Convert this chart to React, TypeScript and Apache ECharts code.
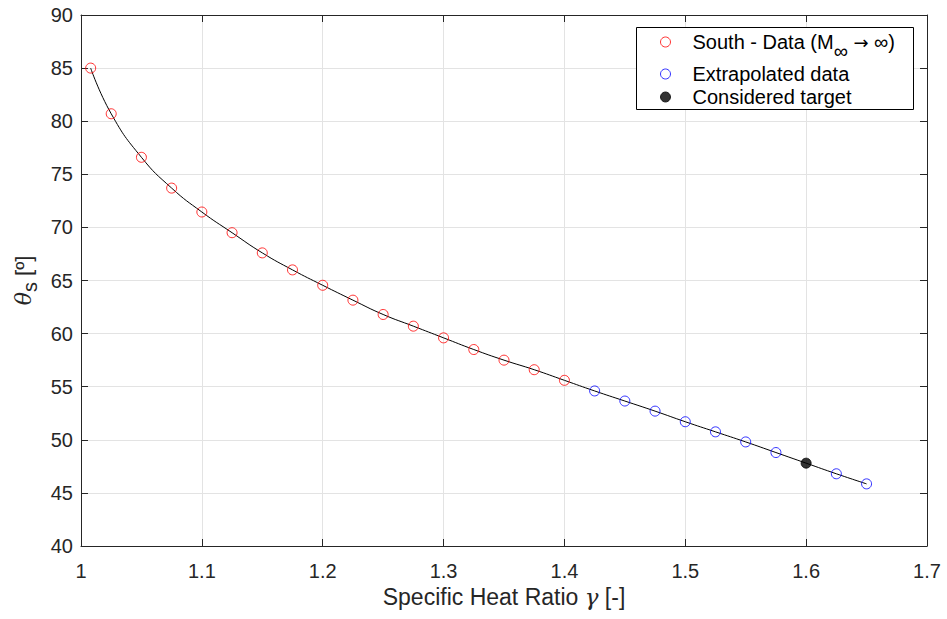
import React, { useEffect, useRef } from "react";
import * as echarts from "echarts";

const southGamma = [1.008, 1.025, 1.05, 1.075, 1.1, 1.125, 1.15, 1.175, 1.2, 1.225, 1.25, 1.275, 1.3, 1.325, 1.35, 1.375, 1.4];
const southTheta = [85.0, 80.7, 76.6, 73.7, 71.45, 69.5, 67.6, 66.0, 64.55, 63.15, 61.8, 60.7, 59.6, 58.5, 57.5, 56.6, 55.6];
const extraGamma = [1.425, 1.45, 1.475, 1.5, 1.525, 1.55, 1.575, 1.625, 1.65];
const extraTheta = [54.6, 53.65, 52.7, 51.7, 50.75, 49.8, 48.8, 46.8, 45.85];
const targetGamma = [1.6];
const targetTheta = [47.8];

const FONT = "'Liberation Sans', Arial, Helvetica, sans-serif";
const AX = "#262626";

export default function App() {
  const ref = useRef<HTMLDivElement>(null);
  useEffect(() => {
    if (!ref.current) return;
    const chart = echarts.init(ref.current, undefined, { renderer: "svg" });
    const south = southGamma.map((g, i) => [g, southTheta[i]]);
    const extra = extraGamma.map((g, i) => [g, extraTheta[i]]);
    const target = targetGamma.map((g, i) => [g, targetTheta[i]]);
    const all = [...south, ...extra, ...target].sort((a, b) => a[0] - b[0]);

    const xBase = {
      type: "value" as const,
      min: 1,
      max: 1.7,
      interval: 0.1,
      axisLine: { show: true, lineStyle: { color: AX, width: 1 } },
      axisTick: { show: true, inside: true, length: 7, lineStyle: { color: AX } },
    };
    const yBase = {
      type: "value" as const,
      min: 40,
      max: 90,
      interval: 5,
      axisLine: { show: true, lineStyle: { color: AX, width: 1 } },
      axisTick: { show: true, inside: true, length: 7, lineStyle: { color: AX } },
    };

    chart.setOption({
      animation: false,
      backgroundColor: "#ffffff",
      textStyle: { fontFamily: FONT },
      grid: { left: 81, top: 15, right: 20, bottom: 73, containLabel: false, outerBoundsMode: "none" },
      xAxis: [
        {
          ...xBase,
          position: "bottom",
          name: "Specific Heat Ratio {g|γ} [-]",
          nameLocation: "middle",
          nameGap: 39,
          nameTextStyle: {
            fontSize: 23,
            color: AX,
            fontFamily: FONT,
            rich: { g: { fontSize: 23, fontStyle: "italic", fontFamily: "'DejaVu Serif', serif", color: AX } },
          },
          axisLabel: {
            fontSize: 20,
            color: AX,
            margin: 15,
            fontFamily: FONT,
            formatter: (v: number) => String(Math.round(v * 10) / 10),
          },
          splitLine: { show: true, lineStyle: { color: "#e3e3e3", width: 1 } },
        },
        {
          ...xBase,
          position: "top",
          axisLabel: { show: false },
          splitLine: { show: false },
        },
      ],
      yAxis: [
        {
          ...yBase,
          position: "left",
          name: "{t|θ}{s|s} [º]",
          nameLocation: "middle",
          nameGap: 39,
          nameRotate: 90,
          nameTextStyle: {
            fontSize: 22,
            color: AX,
            fontFamily: FONT,
            rich: {
              t: { fontSize: 22, fontStyle: "italic", fontFamily: "'DejaVu Serif', serif", color: AX },
              s: { fontSize: 20, color: AX, padding: [12, 0, 0, 0], fontFamily: FONT },
            },
          },
          axisLabel: { fontSize: 20, color: AX, margin: 8, fontFamily: FONT },
          splitLine: { show: true, lineStyle: { color: "#e3e3e3", width: 1 } },
        },
        {
          ...yBase,
          position: "right",
          axisLabel: { show: false },
          splitLine: { show: false },
        },
      ],
      legend: {
        show: true,
        orient: "vertical",
        left: 660,
        top: 32,
        z: 20,
        itemWidth: 10,
        itemHeight: 10,
        itemGap: 3,
        padding: 0,
        itemStyle: { borderWidth: 1 },
        data: ["South - Data", "Extrapolated data", "Considered target"],
        formatter: (name: string) =>
          name === "South - Data" ? "South - Data (M{sub|∞} {ar|→} ∞)" : name,
        textStyle: {
          fontSize: 20,
          color: "#000",
          fontFamily: FONT,
          padding: [0, 0, 0, 17],
          rich: {
            sub: { fontSize: 20, verticalAlign: "bottom", padding: [18, 0, 0, 0], color: "#000", fontFamily: FONT },
            ar: { fontSize: 18, color: "#000", fontFamily: "'DejaVu Sans', sans-serif" },
          },
        },
      },
      graphic: [
        {
          type: "rect",
          left: 636,
          top: 27,
          shape: { width: 277, height: 82 },
          style: { fill: "#ffffff", stroke: "#000000", lineWidth: 1 },
          z: 5,
          silent: true,
        },
      ],
      series: [
        {
          name: "fit",
          type: "line",
          data: all,
          smooth: true,
          showSymbol: false,
          symbol: "none",
          lineStyle: { color: "#000", width: 1 },
          z: 2,
        },
        {
          name: "South - Data",
          type: "scatter",
          data: south,
          symbol: "circle",
          symbolSize: 10,
          itemStyle: { color: "rgba(255,255,255,0)", borderColor: "#ff0000", borderWidth: 1 },
          z: 3,
        },
        {
          name: "Extrapolated data",
          type: "scatter",
          data: extra,
          symbol: "circle",
          symbolSize: 10,
          itemStyle: { color: "rgba(255,255,255,0)", borderColor: "#0000ff", borderWidth: 1 },
          z: 3,
        },
        {
          name: "Considered target",
          type: "scatter",
          data: target,
          symbol: "circle",
          symbolSize: 10,
          itemStyle: { color: "#000000", borderColor: "#000000", borderWidth: 1 },
          z: 3,
        },
      ],
    });
    return () => chart.dispose();
  }, []);
  return <div ref={ref} style={{ width: 947, height: 619, position: "absolute", left: 0, top: 0 }} />;
}
